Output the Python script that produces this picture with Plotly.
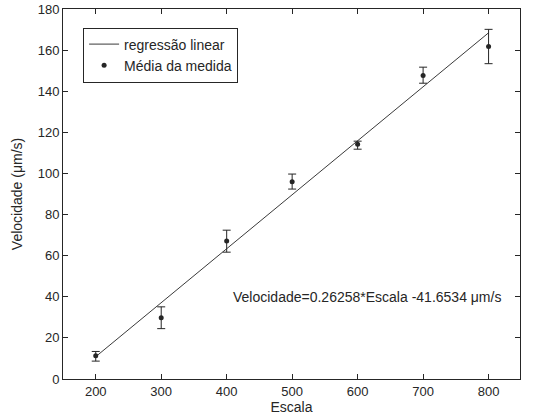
import plotly.graph_objects as go

escala = [200, 300, 400, 500, 600, 700, 800]
velocidade = [11.3, 29.8, 67.1, 95.9, 114.2, 147.7, 161.7]
erro_sup = [2.1, 5.3, 5.3, 3.8, 1.5, 4.0, 8.4]
erro_inf = [2.6, 5.3, 5.4, 3.5, 2.4, 3.8, 8.3]
ticks_y = [0, 20, 40, 60, 80, 100, 120, 140, 160, 180]

reta_x = [200, 800]
reta_y = [10.86, 168.41]

cor = "#262626"

fig = go.Figure()
fig.add_trace(go.Scatter(x=reta_x, y=reta_y, mode="lines", name="regressão linear",
                         line=dict(color="#3a3a3a", width=1)))
fig.add_trace(go.Scatter(x=escala, y=velocidade, mode="markers", name="Média da medida",
                         marker=dict(color=cor, size=5),
                         error_y=dict(type="data", symmetric=False, array=erro_sup,
                                      arrayminus=erro_inf, color=cor,
                                      thickness=1, width=4)))

fig.add_annotation(x=0.371, y=40, xref="paper", yref="y",
                   text="Velocidade=0.26258*Escala -41.6534 μm/s",
                   showarrow=False, xanchor="left", xshift=-2,
                   font=dict(size=14, color=cor))

eixo = dict(showline=True, linecolor=cor, linewidth=1, mirror="ticks",
            ticks="inside", ticklen=5, tickcolor=cor, showgrid=False,
            zeroline=False, automargin=False, tickfont=dict(size=13, color=cor))

fig.update_xaxes(range=[150, 848], tickvals=escala,
                 title=dict(text="Escala", font=dict(size=14, color=cor), standoff=2),
                 **eixo)
fig.update_yaxes(range=[0, 180], tickvals=ticks_y,
                 title=dict(text="Velocidade (μm/s)", font=dict(size=14, color=cor), standoff=11),
                 **eixo)

fig.update_layout(width=534, height=420, plot_bgcolor="white", paper_bgcolor="white",
                  margin=dict(l=63, r=14, t=9, b=41),
                  font=dict(family="Liberation Sans, Arial", size=13, color=cor),
                  legend=dict(x=0.044, y=0.95, xanchor="left", yanchor="top",
                              bordercolor=cor, borderwidth=1, bgcolor="white",
                              font=dict(size=14), tracegroupgap=0))

fig.write_html("out.html", config={"displayModeBar": False},
               post_script="document.body.style.margin='0';")
